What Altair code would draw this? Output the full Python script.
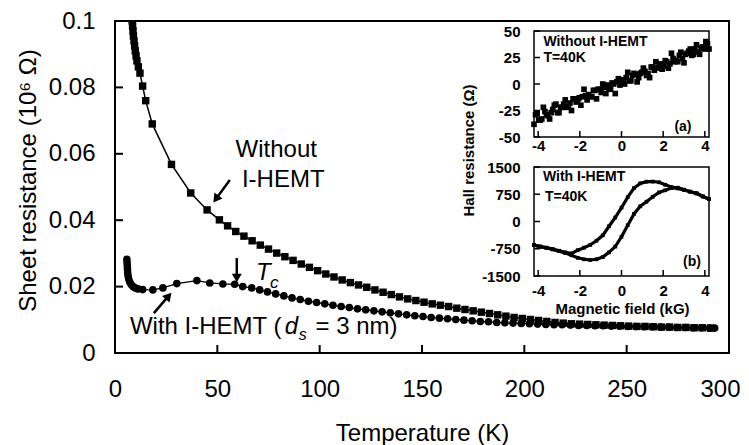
import altair as alt
import pandas as pd

# ---------------- main panel: sheet resistance vs temperature ----------------
T_without = [8.4, 8.6, 8.8, 9.0, 9.3, 9.6, 9.9, 10.3, 10.7, 11.4, 12.2, 13.5, 15.0, 18.2, 27.6, 37.0, 45.0, 51.0,
             55, 59, 63, 67, 71, 75, 79, 83, 87, 91, 95, 99, 103, 107, 111, 115, 119, 123, 127, 131, 135, 139,
             143, 147, 151, 155, 159, 163, 167, 171, 175, 179, 183, 187, 191, 195, 199, 203, 207, 211, 215, 219,
             223, 227, 231, 235, 239, 243, 247, 251, 255, 259, 263, 267, 271, 275, 279, 283, 287, 291]
R_without = [0.1000, 0.0985, 0.0970, 0.0955, 0.0940, 0.0925, 0.0910, 0.0895, 0.0880, 0.0862, 0.0843, 0.0804, 0.0760, 0.0690, 0.0568, 0.0482, 0.0431, 0.0401,
             0.0383, 0.0366, 0.0352, 0.0338, 0.0325, 0.0313, 0.0301, 0.0290, 0.0279, 0.0268, 0.0258, 0.0248, 0.0238, 0.0229, 0.0220, 0.0212, 0.0205, 0.0198, 0.0190, 0.0183, 0.0176, 0.0169,
             0.0163, 0.0158, 0.0153, 0.0148, 0.0144, 0.0140, 0.0135, 0.0131, 0.0127, 0.0123, 0.0119, 0.0115, 0.0111, 0.0107, 0.0104, 0.0101, 0.0098, 0.0095, 0.0092, 0.0090,
             0.0088, 0.0087, 0.0086, 0.0085, 0.0084, 0.0083, 0.0082, 0.0081, 0.0080, 0.0080, 0.0079, 0.0078, 0.0078, 0.0077, 0.0077, 0.0076, 0.0076, 0.0075]

T_with = [5.8, 5.9, 6.0, 6.1, 6.2, 6.4, 6.7, 7.2, 7.9, 8.8, 9.8, 11.2, 13.5,
          18.5, 23.4, 30.2, 40.0, 46.3, 52.7, 58.5, 62.4, 66.8, 70.7,
          74.5, 78.5, 82.5, 86.5, 90.5, 94.5, 98.5, 102.5, 106.5, 110.5, 114.5, 118.5, 122.5, 126.5, 130.5, 134.5, 138.5,
          142.5, 146.5, 150.5, 154.5, 158.5, 162.5, 166.5, 170.5, 174.5, 178.5, 182.5, 186.5, 190.5, 194.5, 198.5,
          202.5, 206.5, 210.5, 214.5, 218.5, 222.5, 226.5, 230.5, 234.5, 238.5, 242.5, 246.5, 250.5, 254.5, 258.5,
          262.5, 266.5, 270.5, 274.5, 278.5, 282.5, 286.5, 290.5, 293.0]
R_with = [0.0282, 0.0272, 0.0262, 0.0252, 0.0242, 0.0232, 0.0223, 0.0214, 0.0206, 0.0200, 0.0196, 0.0193, 0.0191,
          0.0190, 0.0196, 0.0209, 0.0218, 0.0211, 0.0208, 0.0207, 0.0200, 0.0196, 0.0190,
          0.0184, 0.0178, 0.0172, 0.0166, 0.0161, 0.0156, 0.0152, 0.0148, 0.0144, 0.0140, 0.0137, 0.0133, 0.0130, 0.0127, 0.0124, 0.0121, 0.0118,
          0.0115, 0.0112, 0.0110, 0.0107, 0.0105, 0.0103, 0.0101, 0.0099, 0.0097, 0.0095, 0.0094, 0.0092, 0.0091, 0.0090, 0.0089,
          0.0088, 0.0087, 0.0086, 0.0085, 0.0085, 0.0084, 0.0083, 0.0083, 0.0082, 0.0082, 0.0081, 0.0081, 0.0080, 0.0080, 0.0079,
          0.0079, 0.0078, 0.0078, 0.0077, 0.0077, 0.0076, 0.0076, 0.0075, 0.0075]

main_x_domain = [0, 300]
main_y_domain = [0, 0.1]
main_x_ticks = [0, 50, 100, 150, 200, 250, 300]
main_y_ticks = [0, 0.02, 0.04, 0.06, 0.08, 0.1]

# ---------------- inset (a): Hall resistance without I-HEMT ----------------
B_a1 = [-4.2, -4.05, -3.9, -3.75, -3.6, -3.45, -3.3, -3.15, -3.0, -2.85, -2.7, -2.55, -2.4, -2.25, -2.1, -1.95,
        -1.8, -1.65, -1.5, -1.35, -1.2, -1.05, -0.9, -0.75, -0.6, -0.45, -0.3, -0.15, 0.0, 0.15, 0.3, 0.45, 0.6,
        0.75, 0.9, 1.05, 1.2, 1.35, 1.5, 1.65, 1.8, 1.95, 2.1, 2.25, 2.4, 2.55, 2.7, 2.85, 3.0, 3.15, 3.3, 3.45,
        3.6, 3.75, 3.9, 4.05, 4.2]
H_a1 = [-38, -28, -34, -22, -29, -33, -24, -19, -27, -22, -15, -21, -25, -14, -15, -20,
        -5, -15, -12, -6, -14, -5, 0, -9, -4, 1, -9, 5, 2, 0, 11, 3, 10,
        2, 10, 15, 8, 6, 16, 21, 16, 14, 22, 15, 29, 21, 21, 30, 20, 29, 33, 28,
        37, 28, 35, 40, 33]
B_a2 = [-4.125, -3.975, -3.825, -3.675, -3.525, -3.375, -3.225, -3.075, -2.925, -2.775, -2.625, -2.475, -2.325,
        -2.175, -2.025, -1.875, -1.725, -1.575, -1.425, -1.275, -1.125, -0.975, -0.825, -0.675, -0.525, -0.375,
        -0.225, -0.075, 0.075, 0.225, 0.375, 0.525, 0.675, 0.825, 0.975, 1.125, 1.275, 1.425, 1.575, 1.725, 1.875,
        2.025, 2.175, 2.325, 2.475, 2.625, 2.775, 2.925, 3.075, 3.225, 3.375, 3.525, 3.675, 3.825, 3.975, 4.125]
H_a2 = [-29, -34, -33, -26, -30, -27, -20, -27, -22, -19, -22, -18, -14,
        -17, -13, -12, -11, -10, -12, -6, -5, -8, -3, -1, -5, 0,
        2, -1, 4, 6, 3, 8, 9, 6, 11, 12, 10, 16, 13, 15, 19,
        17, 21, 19, 24, 22, 27, 24, 28, 31, 27, 33, 30, 34, 33, 38]

# ---------------- inset (b): Hall resistance with I-HEMT (hysteresis) ----------------
B_down = [4.2, 3.9, 3.6, 3.3, 3.0, 2.7, 2.4, 2.1, 1.8, 1.5, 1.2, 0.9, 0.6, 0.3, 0.0, -0.3, -0.6, -0.9, -1.2,
          -1.5, -1.8, -2.1, -2.4, -2.7, -3.0, -3.3, -3.6, -3.9, -4.2]
H_down = [620, 690, 775, 820, 870, 910, 950, 1010, 1080, 1100, 1095, 1050, 920, 670, 380, 110, -130, -380, -530,
          -645, -720, -790, -880, -850, -805, -760, -720, -690, -650]
B_up = [-4.2, -3.9, -3.6, -3.3, -3.0, -2.7, -2.4, -2.1, -1.8, -1.5, -1.2, -0.9, -0.6, -0.3, 0.0, 0.3, 0.6, 0.9,
        1.2, 1.5, 1.8, 2.1, 2.4, 2.7, 3.0, 3.3, 3.6, 3.9, 4.2]
H_up = [-650, -690, -730, -770, -815, -865, -930, -1000, -1040, -1060, -1040, -980, -850, -690, -420, -100, 210, 420,
        545, 680, 800, 860, 920, 930, 875, 820, 775, 690, 620]

inset_x_domain = [-4.2, 4.2]
inset_a_y_domain = [-50, 50]
inset_b_y_domain = [-1500, 1500]
inset_x_ticks = [-4, -2, 0, 2, 4]
inset_a_y_ticks = [-50, -25, 0, 25, 50]
inset_b_y_ticks = [-1500, -750, 0, 750, 1500]

# ---------------- annotations (data coordinates) ----------------
arrow_x0 = [56.1, 59.5, 19.0]
arrow_y0 = [0.0521, 0.0286, 0.0120]
arrow_x1 = [49.3, 59.5, 26.2]
arrow_y1 = [0.0464, 0.0226, 0.0172]
arrow_angle = [216, 180, 41]

# ---------------- layout (pixels inside the plot area) ----------------
FONT = "Liberation Sans"
W, H = 614, 332
INSET_X_RANGE = [419, 594]
INSET_A_Y_RANGE = [116, 10]
INSET_B_Y_RANGE = [255, 146]
MAIN_TICK = 8
INSET_TICK = 6

xs = alt.Scale(domain=main_x_domain, nice=False, zero=False)
ys = alt.Scale(domain=main_y_domain, nice=False, zero=False)
xa_s = alt.Scale(domain=inset_x_domain, range=INSET_X_RANGE, nice=False, zero=False)
ya_s = alt.Scale(domain=inset_a_y_domain, range=INSET_A_Y_RANGE, nice=False, zero=False)
xb_s = alt.Scale(domain=inset_x_domain, range=INSET_X_RANGE, nice=False, zero=False)
yb_s = alt.Scale(domain=inset_b_y_domain, range=INSET_B_Y_RANGE, nice=False, zero=False)

LBL = "'' + datum.value"
LAST_X = "datum.value == %d" % main_x_ticks[-1]

main_x_axis = alt.Axis(orient="bottom", values=main_x_ticks, grid=False, domain=False, ticks=False,
                       labelPadding=24.5, labelFont=FONT, labelFontSize=24,
                       labelColor="black", labelExpr=LBL, labelFlush=False, labelOverlap=False,
                       labelAlign={"condition": {"test": LAST_X, "value": "right"}, "value": "center"},
                       labelOffset={"condition": {"test": LAST_X, "value": 11}, "value": 0},
                       title="Temperature (K)", titleFont=FONT, titleFontSize=24, titleFontWeight="normal",
                       titleColor="black", titleX=307, titleY=87, titleBaseline="alphabetic",
                       titleAlign="center")
main_y_axis = alt.Axis(orient="left", values=main_y_ticks, grid=False, domain=False, ticks=False,
                       labelPadding=20, labelFont=FONT, labelFontSize=24,
                       labelColor="black", labelExpr=LBL, labelFlush=False, labelOverlap=False,
                       title="Sheet resistance (10\u2076 \u03a9)", titleFont=FONT, titleFontSize=24,
                       titleFontWeight="normal", titleColor="black", titleX=-80, titleY=159,
                       titleAngle=270, titleBaseline="alphabetic", titleAlign="center")


def inset_axis(orient, offset, values, pad, **kw):
    return alt.Axis(orient=orient, offset=offset, values=values, grid=False, domain=False, ticks=False,
                    labelPadding=pad, labelFont=FONT, labelFontSize=15, labelFontWeight="bold",
                    labelColor="black", labelExpr=LBL, labelFlush=False, labelOverlap=False, **kw)


xa_axis = inset_axis("bottom", INSET_A_Y_RANGE[0] - H, inset_x_ticks, 1.5, title=None)
ya_axis = inset_axis("left", -INSET_X_RANGE[0], inset_a_y_ticks, 14, title=None)
xb_axis = inset_axis("bottom", INSET_B_Y_RANGE[0] - H, inset_x_ticks, 7.5, title="Magnetic field (kG)",
                     titleFont=FONT, titleFontSize=15, titleFontWeight="bold", titleColor="black",
                     titleX=507, titleY=37.5, titleBaseline="alphabetic", titleAlign="center")
yb_axis = inset_axis("left", -INSET_X_RANGE[0], inset_b_y_ticks, 14, title="Hall resistance (\u03a9)",
                     titleFont=FONT, titleFontSize=15, titleFontWeight="bold", titleColor="black",
                     titleX=-61, titleY=129, titleAngle=270, titleBaseline="alphabetic", titleAlign="center")

GROUPS = {
    "main": (xs, main_x_axis, ys, main_y_axis),
    "a": (xa_s, xa_axis, ya_s, ya_axis),
    "b": (xb_s, xb_axis, yb_s, yb_axis),
}


def X(group, field):
    s, ax, _, _ = GROUPS[group]
    return alt.X(field, scale=s, axis=ax)


def Y(group, field):
    _, _, s, ax = GROUPS[group]
    return alt.Y(field, scale=s, axis=ax)


def text_layer(group, xv, yv, label, **kw):
    d = pd.DataFrame({"x": [xv], "y": [yv], "t": [label]})
    return alt.Chart(d).mark_text(font=FONT, color="black", **kw).encode(
        x=X(group, "x:Q"), y=Y(group, "y:Q"), text="t:N")


def tick_layers(group, xvals, yvals, x_px_range, y_px_range, length, width):
    dx = pd.DataFrame({"v": xvals})
    dy = pd.DataFrame({"v": yvals})
    tx = alt.Chart(dx).mark_rule(color="black", strokeWidth=width).encode(
        x=X(group, "v:Q"), y=alt.value(y_px_range[0]), y2=alt.value(y_px_range[0] - length))
    ty = alt.Chart(dy).mark_rule(color="black", strokeWidth=width).encode(
        y=Y(group, "v:Q"), x=alt.value(x_px_range[0]), x2=alt.value(x_px_range[0] + length))
    return [tx, ty]


# ---------------- main layers ----------------
df_wo = pd.DataFrame({"T": T_without, "R": R_without})
df_w = pd.DataFrame({"T": T_with, "R": R_with})

wo_line = alt.Chart(df_wo).mark_line(color="black", strokeWidth=1.5, clip=True).encode(
    x=X("main", "T:Q"), y=Y("main", "R:Q"))
wo_pts = alt.Chart(df_wo).mark_point(shape="square", filled=True, size=55, color="black", opacity=1,
                                     clip=True).encode(x=X("main", "T:Q"), y=Y("main", "R:Q"))
w_line = alt.Chart(df_w).mark_line(color="black", strokeWidth=1.2, clip=True).encode(
    x=X("main", "T:Q"), y=Y("main", "R:Q"))
w_pts = alt.Chart(df_w).mark_point(shape="circle", filled=True, size=58, color="black", opacity=1,
                                   clip=True).encode(x=X("main", "T:Q"), y=Y("main", "R:Q"))

df_arrows = pd.DataFrame({"x0": arrow_x0, "y0": arrow_y0, "x1": arrow_x1, "y1": arrow_y1, "a": arrow_angle})
arrow_shafts = alt.Chart(df_arrows).mark_rule(color="black", strokeWidth=2.5).encode(
    x=X("main", "x0:Q"), x2="x1:Q", y=Y("main", "y0:Q"), y2="y1:Q")
arrow_heads = alt.Chart(df_arrows).mark_point(shape="triangle-up", filled=True, size=100, color="black",
                                              opacity=1).encode(
    x=X("main", "x1:Q"), y=Y("main", "y1:Q"), angle=alt.Angle("a:Q", scale=None))

main_texts = [
    text_layer("main", 78.8, 0.0611, "Without", fontSize=24, align="center", baseline="middle"),
    text_layer("main", 82.2, 0.0521, "I-HEMT", fontSize=24, align="center", baseline="middle"),
    text_layer("main", 7.3, 0.0078, "With I-HEMT (", fontSize=24, align="left", baseline="middle"),
    text_layer("main", 82.9, 0.0078, "d", fontSize=24, fontStyle="italic", align="left", baseline="middle"),
    text_layer("main", 89.8, 0.0054, "s", fontSize=16, fontStyle="italic", align="left", baseline="middle"),
    text_layer("main", 98.0, 0.0078, "= 3 nm)", fontSize=24, align="left", baseline="middle"),
    text_layer("main", 72.5, 0.0241, "T", fontSize=24, fontStyle="italic", align="center", baseline="middle"),
    text_layer("main", 77.8, 0.0211, "c", fontSize=17, fontStyle="italic", align="center", baseline="middle"),
]

main = alt.layer(wo_line, wo_pts, w_line, w_pts, arrow_shafts, arrow_heads, *main_texts,
                 *tick_layers("main", main_x_ticks, main_y_ticks, [0, W], [H, 0], MAIN_TICK, 2))

# ---------------- inset (a) ----------------
frame_a = pd.DataFrame({"x0": [inset_x_domain[0]], "x1": [inset_x_domain[1]],
                        "y0": [inset_a_y_domain[0]], "y1": [inset_a_y_domain[1]]})
box_a = alt.Chart(frame_a).mark_rect(fillOpacity=0, stroke="black", strokeWidth=1.5).encode(
    x=X("a", "x0:Q"), x2="x1:Q", y=Y("a", "y0:Q"), y2="y1:Q")
df_a = pd.DataFrame({"B": B_a1 + B_a2, "H": H_a1 + H_a2})
pts_a = alt.Chart(df_a).mark_point(shape="square", filled=True, size=32, color="black", opacity=1).encode(
    x=X("a", "B:Q"), y=Y("a", "H:Q"))
inset_a = alt.layer(
    box_a, pts_a,
    *tick_layers("a", inset_x_ticks, inset_a_y_ticks, INSET_X_RANGE, INSET_A_Y_RANGE, INSET_TICK, 1.5),
    text_layer("a", -3.75, 39.6, "Without I-HEMT", fontSize=14, fontWeight="bold", align="left",
               baseline="middle"),
    text_layer("a", -3.75, 25.0, "T=40K", fontSize=14, fontWeight="bold", align="left", baseline="middle"),
    text_layer("a", 2.95, -40.6, "(a)", fontSize=14, fontWeight="bold", align="center", baseline="middle"),
)

# ---------------- inset (b) ----------------
frame_b = pd.DataFrame({"x0": [inset_x_domain[0]], "x1": [inset_x_domain[1]],
                        "y0": [inset_b_y_domain[0]], "y1": [inset_b_y_domain[1]]})
box_b = alt.Chart(frame_b).mark_rect(fillOpacity=0, stroke="black", strokeWidth=1.5).encode(
    x=X("b", "x0:Q"), x2="x1:Q", y=Y("b", "y0:Q"), y2="y1:Q")
df_b = pd.DataFrame({"B": B_down + B_up, "H": H_down + H_up,
                     "branch": ["down"] * len(B_down) + ["up"] * len(B_up),
                     "order": list(range(len(B_down))) + list(range(len(B_up)))})
line_b = alt.Chart(df_b).mark_line(color="black", strokeWidth=3.2).encode(
    x=X("b", "B:Q"), y=Y("b", "H:Q"), detail="branch:N", order="order:Q")
pts_b = alt.Chart(df_b).mark_point(shape="square", filled=True, size=14, color="black", opacity=1).encode(
    x=X("b", "B:Q"), y=Y("b", "H:Q"))
inset_b = alt.layer(
    box_b, line_b, pts_b,
    *tick_layers("b", inset_x_ticks, inset_b_y_ticks, INSET_X_RANGE, INSET_B_Y_RANGE, INSET_TICK, 1.5),
    text_layer("b", -3.77, 1225, "With I-HEMT", fontSize=14, fontWeight="bold", align="left",
               baseline="middle"),
    text_layer("b", -3.67, 674, "T=40K", fontSize=14, fontWeight="bold", align="left", baseline="middle"),
    text_layer("b", 3.38, -1115, "(b)", fontSize=14, fontWeight="bold", align="center", baseline="middle"),
)

chart = alt.layer(main, inset_a, inset_b).resolve_scale(
    x="independent", y="independent"
).properties(
    width=W, height=H,
    autosize=alt.AutoSizeParams(type="none"),
    padding={"left": 107, "top": 13, "right": 12, "bottom": 92},
).configure_view(stroke="black", strokeWidth=2)

chart.save("out.html", embed_options={"renderer": "svg", "actions": False})
